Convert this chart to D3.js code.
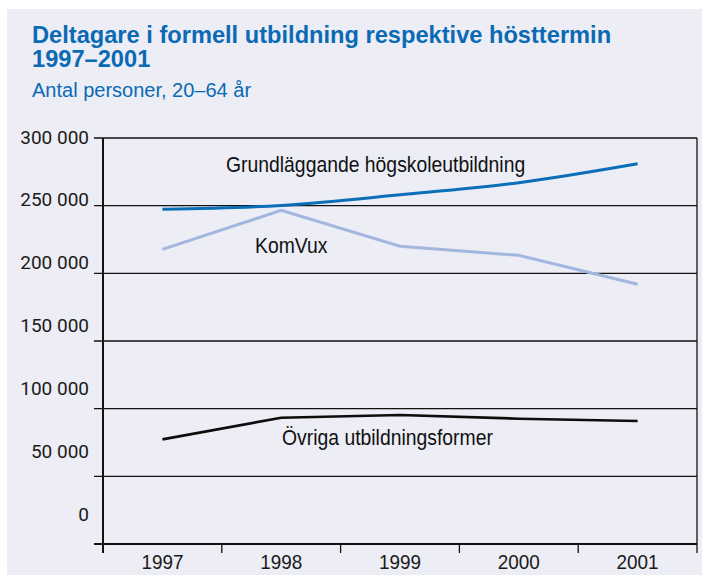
<!DOCTYPE html>
<html>
<head>
<meta charset="utf-8">
<script src="https://cdn.jsdelivr.net/npm/d3@7"></script>
<style>
  body { margin: 0; background: #ffffff; }
  svg { display: block; }
</style>
</head>
<body>
<div id="chart"></div>
<script>
// data
const years = [1997, 1998, 1999, 2000, 2001];
const grundlaggande = [247300, 250200, 258000, 267000, 281000];
const komvux = [217700, 246500, 220000, 213300, 191900];
const ovriga = [77300, 93300, 95300, 92600, 90900];
const yTicks = [0, 50000, 100000, 150000, 200000, 250000, 300000];
const seriesNames = [
  "Grundläggande högskoleutbildning",
  "KomVux",
  "Övriga utbildningsformer",
];
const titleLines = [
  "Deltagare i formell utbildning respektive hösttermin",
  "1997–2001",
];
const subtitle = "Antal personer, 20–64 år";

const width = 702;
const height = 575;
const margin = { top: 138, right: 5, bottom: 31, left: 103 };
const plotW = width - margin.left - margin.right;
const plotH = height - margin.top - margin.bottom;

const sans = "'Liberation Sans', Arial, sans-serif";
const blue = "#0a6ab4";

const svg = d3
  .select("#chart")
  .append("svg")
  .attr("width", width)
  .attr("height", height);

svg
  .append("rect")
  .attr("x", 7)
  .attr("y", 9)
  .attr("width", width - 7)
  .attr("height", height - 9)
  .attr("fill", "#ecedf5");

// titles (the original face is condensed, so squeeze a little)
svg
  .append("g")
  .selectAll("text")
  .data(titleLines)
  .enter()
  .append("text")
  .attr("transform", (d, i) => "translate(32," + (43 + i * 24) + ") scale(0.985,1)")
  .attr("font-family", sans)
  .attr("font-weight", "bold")
  .attr("font-size", 24)
  .attr("fill", blue)
  .text((d) => d);

svg
  .append("text")
  .attr("x", 32)
  .attr("y", 97)
  .attr("font-family", sans)
  .attr("font-size", 20)
  .attr("fill", blue)
  .text(subtitle);

const g = svg
  .append("g")
  .attr("transform", "translate(" + margin.left + "," + margin.top + ")");

const xScale = d3.scaleBand().domain(years).range([0, plotW]).padding(0);
const yScale = d3.scaleLinear().domain([0, 300000]).range([plotH, 0]);
// the tick labels in the original sit on their own, slightly tighter spacing
const yLabelScale = d3.scaleLinear().domain([0, 300000]).range([plotH - 30, -1]);

const fmt = d3.formatLocale({
  decimal: ",",
  thousands: " ",
  grouping: [3],
  currency: ["", ""],
}).format(",");

// gridlines
g.append("g")
  .selectAll("line")
  .data(yTicks)
  .enter()
  .append("line")
  .attr("x1", -9)
  .attr("x2", plotW)
  .attr("y1", (d) => yScale(d))
  .attr("y2", (d) => yScale(d))
  .attr("stroke", "#111")
  .attr("stroke-width", (d) => (d === 0 ? 2 : 1.3));

// y labels
g.append("g")
  .selectAll("text")
  .data(yTicks)
  .enter()
  .append("text")
  .attr("x", -14)
  .attr("y", (d) => yLabelScale(d))
  .attr("dy", "0.35em")
  .attr("text-anchor", "end")
  .attr("font-family", "Roboto, sans-serif")
  .attr("font-size", 19)
  .attr("fill", "#1a1a1a")
  .text((d) => fmt(d));

// axis lines
g.append("line")
  .attr("x1", 0)
  .attr("x2", 0)
  .attr("y1", 0)
  .attr("y2", plotH + 9)
  .attr("stroke", "#111")
  .attr("stroke-width", 2);

g.append("line")
  .attr("x1", plotW)
  .attr("x2", plotW)
  .attr("y1", 0)
  .attr("y2", plotH + 9)
  .attr("stroke", "#111")
  .attr("stroke-width", 1.3);

// x ticks at band edges
const edges = years.map((d) => xScale(d)).concat([plotW]);
g.append("g")
  .selectAll("line")
  .data(edges.slice(1, -1))
  .enter()
  .append("line")
  .attr("x1", (d) => d)
  .attr("x2", (d) => d)
  .attr("y1", plotH)
  .attr("y2", plotH + 9)
  .attr("stroke", "#111")
  .attr("stroke-width", 1.3);

g.append("g")
  .selectAll("text")
  .data(years)
  .enter()
  .append("text")
  .attr("transform", (d) =>
    "translate(" + (xScale(d) + xScale.bandwidth() / 2) + "," + (plotH + 25) + ") scale(0.9,1)")
  .attr("text-anchor", "middle")
  .attr("font-family", sans)
  .attr("font-size", 21)
  .attr("fill", "#1a1a1a")
  .text((d) => d);

// lines
const cx = (d, i) => xScale(years[i]) + xScale.bandwidth() / 2;

const series = [
  { name: seriesNames[0], values: grundlaggande, color: "#0b6fb8", w: 3, curve: d3.curveMonotoneX },
  { name: seriesNames[1], values: komvux, color: "#a3b6e0", w: 3, curve: d3.curveLinear },
  { name: seriesNames[2], values: ovriga, color: "#0d0d0d", w: 2.6, curve: d3.curveLinear },
];

series.forEach((s) => {
  g.append("path")
    .datum(s.values)
    .attr("fill", "none")
    .attr("stroke", s.color)
    .attr("stroke-width", s.w)
    .attr(
      "d",
      d3
        .line()
        .x(cx)
        .y((d) => yScale(d))
        .curve(s.curve)
    );
});

// series labels
const labelPos = [
  { x: 123, y: 34 },
  { x: 152, y: 115 },
  { x: 179, y: 307 },
];

g.append("g")
  .selectAll("text")
  .data(seriesNames)
  .enter()
  .append("text")
  .attr("transform", (d, i) =>
    "translate(" + labelPos[i].x + "," + labelPos[i].y + ") scale(0.88,1)")
  .attr("font-family", sans)
  .attr("font-size", 22)
  .attr("fill", "#111")
  .text((d) => d);
</script>
</body>
</html>
